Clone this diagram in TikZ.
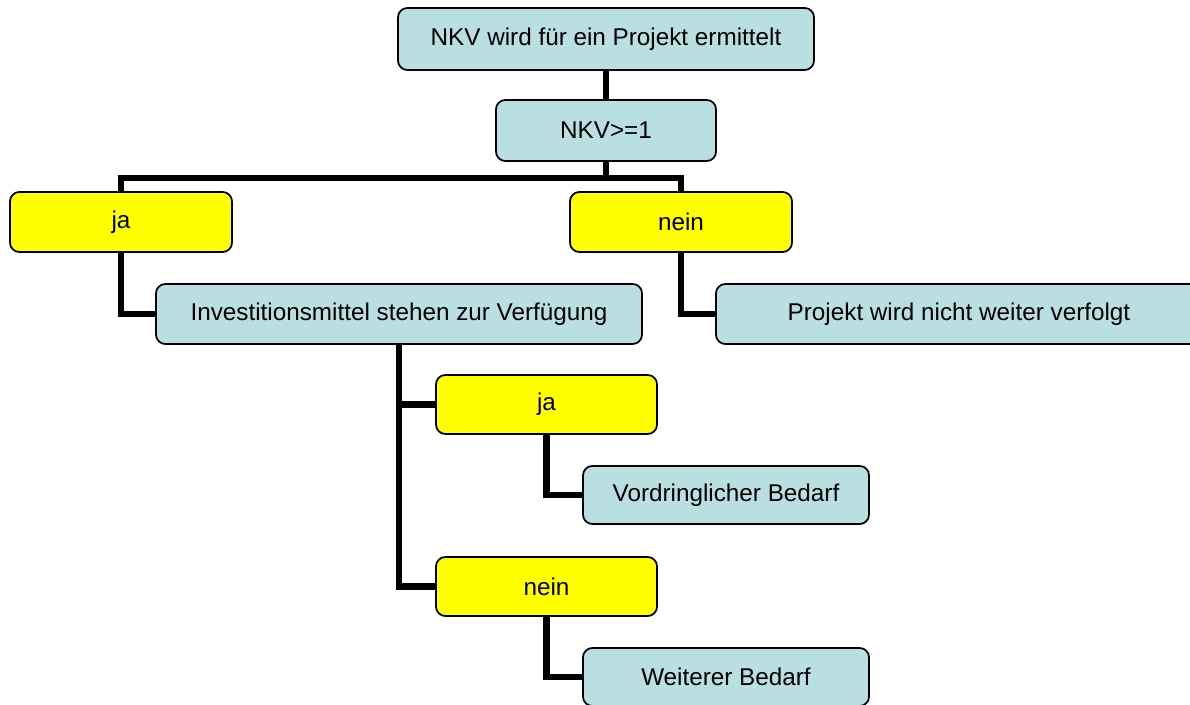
\documentclass[tikz,border=0pt]{standalone}
\usepackage{fontspec}
\setmainfont{Liberation Sans}
\usetikzlibrary{backgrounds}
\definecolor{boxblue}{HTML}{B9DFE3}
\definecolor{boxyellow}{HTML}{FFFF00}
\tikzset{
  base/.style={draw=black, line width=1.3pt, rounded corners=7pt, inner sep=0pt,
    font=\fontsize{18.2}{21}\selectfont, align=center, text=black},
  bluebox/.style={base, fill=boxblue},
  yellowbox/.style={base, fill=boxyellow},
  conn/.style={draw=black, line width=4.6pt, line join=miter},
}
\begin{document}
\begin{tikzpicture}[x=0.75pt, y=-0.75pt]
\clip (0,0) rectangle (1190,705);
\node[bluebox, minimum width=312pt, minimum height=46.5pt] (top) at (606,39) {NKV wird für ein Projekt ermittelt};
\node[bluebox, minimum width=165pt, minimum height=45.75pt] (nkv) at (606,130.5) {NKV>=1};
\node[yellowbox, minimum width=166.5pt, minimum height=45pt] (ja) at (121,222) {ja};
\node[yellowbox, minimum width=166.5pt, minimum height=45pt] (nein) at (681,222) {nein};
\node[bluebox, minimum width=364.5pt, minimum height=45pt] (inv) at (399,314) {Investitionsmittel stehen zur Verfügung};
\node[bluebox, minimum width=364.5pt, minimum height=45pt] (proj) at (959,314) {Projekt wird nicht weiter verfolgt};
\node[yellowbox, minimum width=165.75pt, minimum height=44.25pt] (ja2) at (546.5,404.5) {ja};
\node[bluebox, minimum width=214.5pt, minimum height=43.5pt] (vord) at (726,495) {Vordringlicher Bedarf};
\node[yellowbox, minimum width=165.75pt, minimum height=44.25pt] (nein2) at (546.5,586.5) {nein};
\node[bluebox, minimum width=214.5pt, minimum height=43.5pt] (weit) at (726,677) {Weiterer Bedarf};
\coordinate (bus) at (0,178);
\begin{scope}[on background layer]
\fill[white] (0,0) rectangle (1190,705);
\draw[conn] (top.south) -- (nkv.north);
\draw[conn] (nkv.south) -- (nkv.south |- bus) -| (ja.north);
\draw[conn] (nkv.south |- bus) -| (nein.north);
\draw[conn] (ja.south) |- (inv.west);
\draw[conn] (nein.south) |- (proj.west);
\draw[conn] (inv.south) |- (ja2.west);
\draw[conn] (inv.south) |- (nein2.west);
\draw[conn] (ja2.south) |- (vord.west);
\draw[conn] (nein2.south) |- (weit.west);
\end{scope}
\end{tikzpicture}
\end{document}
